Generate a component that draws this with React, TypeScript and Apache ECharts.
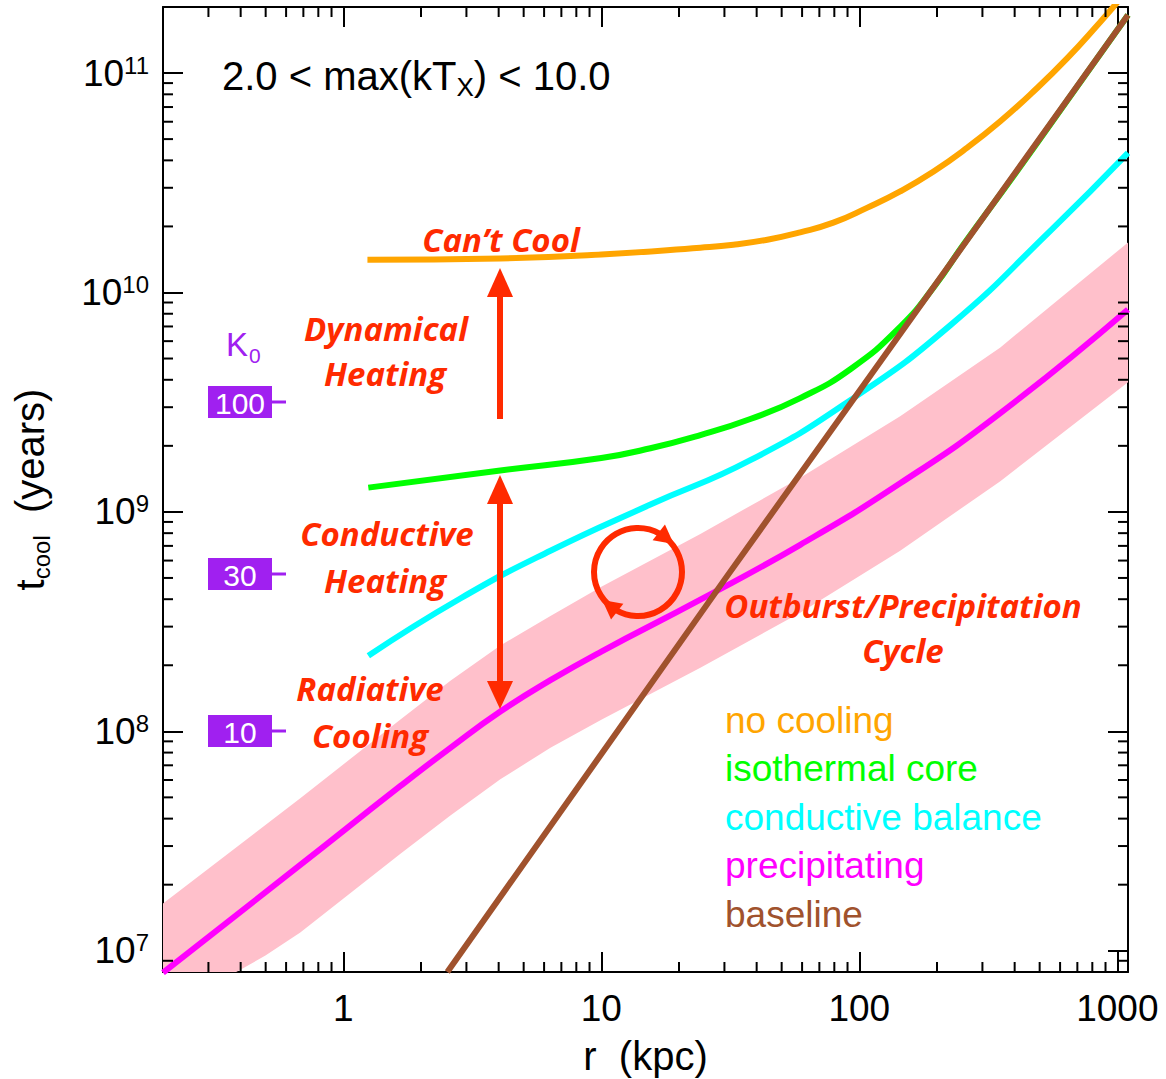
import React, { useEffect, useRef } from 'react';
import * as echarts from 'echarts';

// ---------- axis ranges ----------
const X_MIN = 0.2;
const X_MAX = 1100;
const Y_MIN = 8e6;
const Y_MAX = 2e11;

// ---------- series data (r in kpc, t_cool in years) ----------
const noCoolingR = [1.24, 4.06, 10, 24.2, 32.5, 44, 59, 79.3, 107, 144, 194, 262, 352, 472, 640, 859, 965, 1000];
const noCoolingT = [1.41e10, 1.43e10, 1.49e10, 1.6e10, 1.65e10, 1.74e10, 1.88e10, 2.08e10, 2.43e10, 2.89e10, 3.56e10, 4.57e10, 6.03e10, 8.22e10, 1.17e11, 1.71e11, 2.0e11, 2.1e11];

const isothermalR = [1.25, 3.99, 10, 15.5, 24.2, 37.8, 59, 92.3, 144, 197, 253, 400, 700, 1100];
const isothermalT = [1.29e9, 1.54e9, 1.76e9, 1.95e9, 2.24e9, 2.65e9, 3.3e9, 4.47e9, 6.97e9, 1.08e10, 1.65e10, 3.45e10, 8.71e10, 1.84e11];

const conductiveR = [1.25, 2.84, 6.35, 15.5, 37.8, 92.3, 225, 550, 1100];
const conductiveT = [2.21e8, 4.03e8, 6.65e8, 1.08e9, 1.72e9, 3.23e9, 7.08e9, 1.91e10, 4.33e10];

const precipR = [0.2, 0.681, 1.66, 2.6, 4.06, 6.35, 10, 24.2, 59, 144, 352, 1100];
const precipT = [7.94e6, 2.46e7, 5.62e7, 8.41e7, 1.23e8, 1.71e8, 2.31e8, 3.98e8, 7.08e8, 1.35e9, 2.82e9, 8.37e9];

const baselineR = [2.53, 30, 1100];
const baselineT = [8.0e6, 4.9e8, 1.84e11];

const bandUpperR = [0.2, 0.681, 1.66, 2.6, 4.06, 6.35, 10, 24.2, 59, 144, 352, 1100];
const bandUpperT = [1.64e7, 4.95e7, 1.13e8, 1.7e8, 2.46e8, 3.35e8, 4.56e8, 7.94e8, 1.43e9, 2.73e9, 5.62e9, 1.69e10];
const bandLowerR = [0.2, 0.399, 0.499, 0.681, 1.66, 2.6, 4.06, 6.35, 10, 24.2, 59, 144, 352, 1100];
const bandLowerT = [5.2e6, 8.2e6, 9.5e6, 1.21e7, 2.76e7, 4.13e7, 6.05e7, 8.41e7, 1.13e8, 1.95e8, 3.47e8, 6.65e8, 1.38e9, 3.9e9];

// ---------- minor tick values ----------
const xMinorTicks = [0.3, 0.4, 0.5, 0.6, 0.7, 0.8, 0.9, 2, 3, 4, 5, 6, 7, 8, 9, 20, 30, 40, 50, 60, 70, 80, 90, 200, 300, 400, 500, 600, 700, 800, 900];
const yMinorTicks = [9e6, 2e7, 3e7, 4e7, 5e7, 6e7, 7e7, 8e7, 9e7, 2e8, 3e8, 4e8, 5e8, 6e8, 7e8, 8e8, 9e8, 2e9, 3e9, 4e9, 5e9, 6e9, 7e9, 8e9, 9e9, 2e10, 3e10, 4e10, 5e10, 6e10, 7e10, 8e10, 9e10];

// ---------- legend / labels ----------
const legendLabels = ['no cooling', 'isothermal core', 'conductive balance', 'precipitating', 'baseline'];
const K0Labels = ['100', '30', '10'];

const ORANGE = '#FFA500';
const GREEN = '#00FF00';
const CYAN = '#00FFFF';
const MAGENTA = '#FF00FF';
const BROWN = '#A0522D';
const PINK = '#FFC0CB';
const RED = '#FF2A00';
const PURPLE = '#A020F0';
const legendColors = [ORANGE, GREEN, CYAN, MAGENTA, BROWN];

const FONT = '"Liberation Sans", Arial, Helvetica, sans-serif';
const ANNO_FONT = '"Open Sans", "Noto Sans", sans-serif';

const zip = (r: number[], t: number[]) => r.map((v, i) => [v, t[i]]);

function arrowHead(cx: number, cy: number, R: number, deg: number) {
  const th = (deg * Math.PI) / 180;
  const px = cx + R * Math.cos(th);
  const py = cy + R * Math.sin(th);
  const tx = -Math.sin(th);
  const ty = Math.cos(th);
  const nx = Math.cos(th);
  const ny = Math.sin(th);
  return [
    [px + tx * 11, py + ty * 11],
    [px - tx * 8 + nx * 10, py - ty * 8 + ny * 10],
    [px - tx * 8 - nx * 10, py - ty * 8 - ny * 10],
  ];
}

export default function App() {
  const ref = useRef<HTMLDivElement>(null);

  useEffect(() => {
    if (!ref.current) return;
    const chart = echarts.init(ref.current, undefined, { renderer: 'svg' });

    const lineSeries = (name: string, data: number[][], color: string, z: number) => ({
      type: 'line',
      name,
      data,
      xAxisIndex: 0,
      yAxisIndex: 0,
      showSymbol: false,
      symbol: 'none',
      smooth: 0.5,
      clip: true,
      z,
      silent: true,
      lineStyle: { color, width: 6 },
    });

    const axisTick = { show: true, inside: true, length: 20, lineStyle: { color: '#000', width: 2 } };
    const axisLine = { show: true, lineStyle: { color: '#000', width: 2 } };

    const isPow = (v: number) => {
      const l = Math.log10(v);
      return Math.abs(l - Math.round(l)) < 1e-6;
    };

    const K0Y = [402, 574, 731];
    const GZ = 100;

    const graphics: any[] = [];
    // title
    graphics.push({
      type: 'text', x: 222, y: 76, z: GZ,
      style: {
        text: '{m|2.0 < max(kT}{s|X}{m|) < 10.0}',
        fill: '#000',
        fontSize: 40,
        fontFamily: FONT,
        align: 'left',
        verticalAlign: 'middle',
        rich: {
          m: { fontSize: 40, fontFamily: FONT, fill: '#000', lineHeight: 48, verticalAlign: 'middle' },
          s: { fontSize: 26, fontFamily: FONT, fill: '#000', lineHeight: 12, verticalAlign: 'bottom' },
        },
      },
    });
    // K0 label
    graphics.push({
      type: 'text', x: 226, y: 344, z: GZ,
      style: { text: 'K', fill: PURPLE, fontSize: 33, fontFamily: FONT, align: 'left', verticalAlign: 'middle' },
    });
    graphics.push({
      type: 'text', x: 249, y: 355, z: GZ,
      style: { text: '0', fill: PURPLE, fontSize: 21, fontFamily: FONT, align: 'left', verticalAlign: 'middle' },
    });
    K0Labels.forEach((lab, i) => {
      const y = K0Y[i];
      graphics.push({ type: 'rect', z: GZ, shape: { x: 208, y: y - 16, width: 64, height: 32 }, style: { fill: PURPLE } });
      graphics.push({
        type: 'text', x: 240, y: y + 1, z: GZ + 1,
        style: { text: lab, fill: '#fff', fontSize: 30, fontFamily: FONT, align: 'center', verticalAlign: 'middle' },
      });
      graphics.push({ type: 'line', z: GZ, shape: { x1: 272, y1: y, x2: 286, y2: y }, style: { stroke: PURPLE, lineWidth: 3 } });
    });
    // red annotation texts
    const anno: [string, number, number][] = [
      ['Can\u2019t Cool', 501, 239],
      ['Dynamical', 386, 328],
      ['Heating', 385, 373],
      ['Conductive', 387, 533],
      ['Heating', 385, 580],
      ['Radiative', 370, 688],
      ['Cooling', 370, 735],
      ['Outburst/Precipitation', 903, 605],
      ['Cycle', 903, 650],
    ];
    anno.forEach(([t, x, y]) => {
      graphics.push({
        type: 'text', x, y, z: GZ,
        style: {
          text: t, fill: RED, fontSize: 33, fontWeight: 'bold', fontStyle: 'italic',
          fontFamily: ANNO_FONT, align: 'center', verticalAlign: 'middle',
        },
      });
    });
    // arrows
    graphics.push({ type: 'rect', z: GZ, shape: { x: 497, y: 294, width: 6, height: 125 }, style: { fill: RED } });
    graphics.push({ type: 'polygon', z: GZ, shape: { points: [[500, 268], [487, 297], [513, 297]] }, style: { fill: RED } });
    graphics.push({ type: 'rect', z: GZ, shape: { x: 497, y: 500, width: 6, height: 184 }, style: { fill: RED } });
    graphics.push({ type: 'polygon', z: GZ, shape: { points: [[500, 475], [487, 504], [513, 504]] }, style: { fill: RED } });
    graphics.push({ type: 'polygon', z: GZ, shape: { points: [[500, 709], [487, 681], [513, 681]] }, style: { fill: RED } });
    // cycle circle
    graphics.push({ type: 'circle', z: GZ, shape: { cx: 638, cy: 572, r: 44 }, style: { fill: 'none', stroke: RED, lineWidth: 6 } });
    graphics.push({ type: 'polygon', z: GZ, shape: { points: arrowHead(638, 572, 44, -52) }, style: { fill: RED } });
    graphics.push({ type: 'polygon', z: GZ, shape: { points: arrowHead(638, 572, 44, 128) }, style: { fill: RED } });
    // legend
    legendLabels.forEach((lab, i) => {
      graphics.push({
        type: 'text', x: 725, y: 720 + i * 48.5, z: GZ,
        style: { text: lab, fill: legendColors[i], fontSize: 37, fontFamily: FONT, align: 'left', verticalAlign: 'middle' },
      });
    });

    const option: any = {
      animation: false,
      backgroundColor: '#fff',
      grid: { left: 163, top: 7, right: 38, bottom: 107, outerBoundsMode: 'none', containLabel: false },
      xAxis: [
        {
          type: 'log', logBase: 10, min: X_MIN, max: X_MAX, position: 'bottom',
          axisLine, axisTick, splitLine: { show: false }, minorTick: { show: false },
          axisLabel: {
            show: true, margin: 18, color: '#000', fontSize: 37, fontFamily: FONT,
            showMinLabel: true, showMaxLabel: true, hideOverlap: false,
            formatter: (v: number) => (isPow(v) && v >= 1 ? String(Math.round(v)) : ''),
          },
          name: 'r  (kpc)', nameLocation: 'middle', nameGap: 64, nameMoveOverlap: false,
          nameTextStyle: { color: '#000', fontSize: 40, fontFamily: FONT },
        },
        {
          type: 'log', logBase: 10, min: X_MIN, max: X_MAX, position: 'top',
          axisLine, axisTick, splitLine: { show: false }, axisLabel: { show: false },
        },
      ],
      yAxis: [
        {
          type: 'log', logBase: 10, min: Y_MIN, max: Y_MAX, position: 'left',
          axisLine, axisTick, splitLine: { show: false }, minorTick: { show: false },
          axisLabel: {
            show: true, margin: 14, color: '#000', fontSize: 37, fontFamily: FONT, hideOverlap: false,
            formatter: (v: number) => (isPow(v) ? `{b|10}{s|${Math.round(Math.log10(v))}}` : ''),
            rich: {
              b: { fontSize: 37, fontFamily: FONT, color: '#000', lineHeight: 40 },
              s: { fontSize: 24, fontFamily: FONT, color: '#000', lineHeight: 22, verticalAlign: 'top' },
            },
          },
          name: '{m|t}{s|cool}{m|  (years)}', nameLocation: 'middle', nameGap: 110, nameRotate: 90, nameMoveOverlap: false,
          nameTextStyle: {
            color: '#000', fontSize: 40, fontFamily: FONT,
            rich: {
              m: { fontSize: 40, fontFamily: FONT, color: '#000', lineHeight: 46, verticalAlign: 'middle' },
              s: { fontSize: 24, fontFamily: FONT, color: '#000', lineHeight: 12, verticalAlign: 'bottom' },
            },
          },
        },
        {
          type: 'log', logBase: 10, min: Y_MIN, max: Y_MAX, position: 'right',
          axisLine, axisTick, splitLine: { show: false }, axisLabel: { show: false },
        },
      ],
      series: [
        {
          type: 'custom', name: 'band', coordinateSystem: 'cartesian2d', xAxisIndex: 0, yAxisIndex: 0,
          clip: true, silent: true, z: 1,
          data: [[1, 1e9]],
          renderItem: (_params: any, api: any) => {
            const pts: number[][] = [];
            bandUpperR.forEach((r, i) => pts.push(api.coord([r, bandUpperT[i]])));
            for (let i = bandLowerR.length - 1; i >= 0; i--) pts.push(api.coord([bandLowerR[i], bandLowerT[i]]));
            return { type: 'polygon', shape: { points: pts }, style: { fill: PINK } };
          },
        },
        {
          type: 'custom', name: 'xminor', coordinateSystem: 'cartesian2d', xAxisIndex: 0, yAxisIndex: 0,
          clip: false, silent: true, z: 5,
          data: xMinorTicks.map((v) => [v, 1e9]),
          renderItem: (params: any, api: any) => {
            const cs = params.coordSys;
            const px = api.coord([api.value(0), 1e9])[0];
            const b = cs.y + cs.height;
            return {
              type: 'group',
              children: [
                { type: 'line', shape: { x1: px, y1: b, x2: px, y2: b - 10 }, style: { stroke: '#000', lineWidth: 2 } },
                { type: 'line', shape: { x1: px, y1: cs.y, x2: px, y2: cs.y + 10 }, style: { stroke: '#000', lineWidth: 2 } },
              ],
            };
          },
        },
        {
          type: 'custom', name: 'yminor', coordinateSystem: 'cartesian2d', xAxisIndex: 0, yAxisIndex: 0,
          clip: false, silent: true, z: 5,
          data: yMinorTicks.map((v) => [1, v]),
          renderItem: (params: any, api: any) => {
            const cs = params.coordSys;
            const py = api.coord([1, api.value(1)])[1];
            const r = cs.x + cs.width;
            return {
              type: 'group',
              children: [
                { type: 'line', shape: { x1: cs.x, y1: py, x2: cs.x + 10, y2: py }, style: { stroke: '#000', lineWidth: 2 } },
                { type: 'line', shape: { x1: r, y1: py, x2: r - 10, y2: py }, style: { stroke: '#000', lineWidth: 2 } },
              ],
            };
          },
        },
        lineSeries('precipitating', zip(precipR, precipT), MAGENTA, 2),
        lineSeries('conductive balance', zip(conductiveR, conductiveT), CYAN, 3),
        lineSeries('isothermal core', zip(isothermalR, isothermalT), GREEN, 3),
        lineSeries('no cooling', zip(noCoolingR, noCoolingT), ORANGE, 3),
        lineSeries('baseline', zip(baselineR, baselineT), BROWN, 4),
      ],
      graphic: { elements: graphics },
    };

    chart.setOption(option);
    return () => chart.dispose();
  }, []);

  return (
    <div
      ref={ref}
      style={{ position: 'absolute', left: 0, top: 0, width: 1166, height: 1079, background: '#fff' }}
    />
  );
}
